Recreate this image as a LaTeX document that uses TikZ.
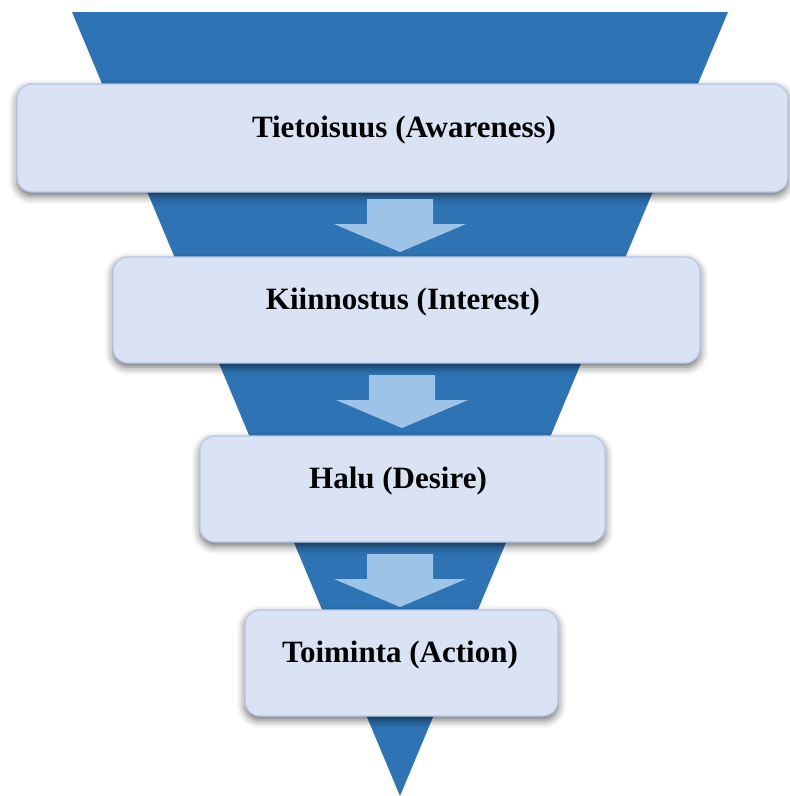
\documentclass[tikz,border=0pt]{standalone}
\usepackage{fontspec}
\setmainfont{Liberation Serif}
\usetikzlibrary{shadows.blur}
\definecolor{funnelblue}{HTML}{2E74B5}
\definecolor{boxfill}{HTML}{DAE3F3}
\definecolor{boxline}{HTML}{B4C7E7}
\definecolor{arrowfill}{HTML}{9DC3E6}
\tikzset{
  stagebox/.style={draw=boxline, line width=1.2pt, fill=boxfill, rounded corners=15pt,
    inner sep=0pt,
    blur shadow={shadow xshift=0pt, shadow yshift=-4pt, shadow blur radius=8pt, shadow opacity=60}},
  stagetext/.style={anchor=base, inner sep=0pt, font=\fontsize{31}{37}\selectfont\bfseries},
  downarrow/.pic={\fill[arrowfill] (-33,0) -- (33,0) -- (33,25) -- (66,25) -- (0,53) -- (-66,25) -- (-33,25) -- cycle;}
}
\begin{document}
\begin{tikzpicture}[x=1pt, y=-1pt]
\useasboundingbox (0,0) rectangle (790,796);
% funnel
\fill[funnelblue] (72,12) -- (728,12) -- (400,796) -- cycle;
% boxes
\node[stagebox, minimum width=771pt, minimum height=108pt] (b1) at (402.5,138) {};
\node[stagebox, minimum width=587pt, minimum height=106pt] (b2) at (406.5,310) {};
\node[stagebox, minimum width=405pt, minimum height=106pt] (b3) at (402.5,489) {};
\node[stagebox, minimum width=313pt, minimum height=106pt] (b4) at (401.5,663) {};
% arrows
\pic at (400,199) {downarrow};
\pic at (402,375) {downarrow};
\pic at (400,554) {downarrow};
% texts
\node[stagetext] (t1) at (404,137) {Tietoisuus (Awareness)};
\node[stagetext] (t2) at (403,309) {Kiinnostus (Interest)};
\node[stagetext] (t3) at (398,488) {Halu (Desire)};
\node[stagetext] (t4) at (400,662) {Toiminta (Action)};
\end{tikzpicture}
\end{document}
